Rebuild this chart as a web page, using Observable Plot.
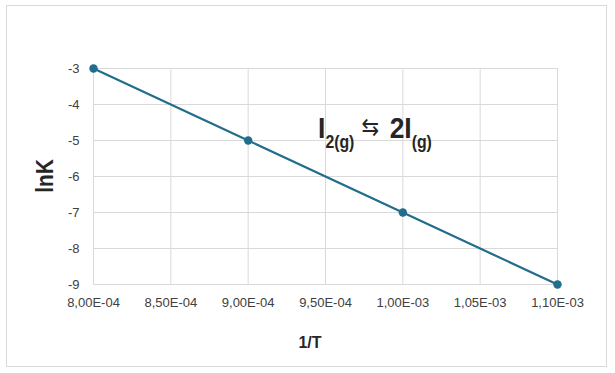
<!DOCTYPE html>
<html>
<head>
<meta charset="utf-8">
<script src="https://cdn.jsdelivr.net/npm/d3@7"></script>
<script src="https://cdn.jsdelivr.net/npm/@observablehq/plot@0.6"></script>
<style>
  html, body { margin: 0; padding: 0; background: #fff; }
  #wrap { position: relative; width: 615px; height: 373px; }
  #frame { position: absolute; left: 6px; top: 5px; width: 599px; height: 360px; border: 1px solid #d9d9d9; box-sizing: content-box; }
  #chart { position: absolute; left: 0; top: 0; }
</style>
</head>
<body>
<div id="wrap"><div id="frame"></div><div id="chart"></div></div>
<script>
const invT = [8.0e-4, 9.0e-4, 1.0e-3, 1.1e-3];
const lnK = [-3, -5, -7, -9];
const xTicks = [8.0e-4, 8.5e-4, 9.0e-4, 9.5e-4, 1.0e-3, 1.05e-3, 1.1e-3];
const xTickLabels = ["8,00E-04", "8,50E-04", "9,00E-04", "9,50E-04", "1,00E-03", "1,05E-03", "1,10E-03"];
const yTicks = [-9, -8, -7, -6, -5, -4, -3];
const xTitle = "1/T";
const yTitle = "lnK";
const annoPos = { x: 9.455e-4, y: -4.944 };

const data = invT.map((x, i) => ({ x, y: lnK[i] }));
const color = "#226c8c";
const font = "'Liberation Sans', Arial, sans-serif";

const plot = Plot.plot({
  width: 615,
  height: 373,
  marginLeft: 93,
  marginRight: 58,
  marginTop: 68,
  marginBottom: 89,
  style: { fontFamily: font, fontSize: "13px", background: "transparent", color: "#404040" },
  x: { domain: [8.0e-4, 1.1e-3], label: null },
  y: { domain: [-9, -3], label: null },
  marks: [
    Plot.gridY(yTicks, { stroke: "#d9d9d9", strokeOpacity: 1, strokeWidth: 1 }),
    Plot.gridX(xTicks, { stroke: "#d9d9d9", strokeOpacity: 1, strokeWidth: 1 }),
    Plot.axisX(xTicks, { tickSize: 0, tickPadding: 13, fill: "#404040", fontSize: 13, tickFormat: (d, i) => xTickLabels[i] }),
    Plot.axisY(yTicks, { tickSize: 0, tickPadding: 14, fill: "#404040", fontSize: 13, tickFormat: d => String(d) }),
    Plot.line(data, { x: "x", y: "y", stroke: color, strokeWidth: 2.2 }),
    Plot.dot(data, { x: "x", y: "y", fill: color, r: 4.2 })
  ]
});
document.getElementById("chart").appendChild(plot);

const svg = d3.select(plot);
const sx = plot.scale("x"), sy = plot.scale("y");

// axis titles
svg.append("text")
  .attr("x", (sx.apply(xTicks[0]) + sx.apply(xTicks[xTicks.length - 1])) / 2 - 15)
  .attr("y", 348)
  .attr("text-anchor", "middle")
  .attr("font-family", font)
  .attr("font-weight", "bold").attr("font-size", 16).attr("fill", "#262626")
  .text(xTitle);

svg.append("text")
  .attr("transform", `translate(53,${(sy.apply(-3) + sy.apply(-9)) / 2}) rotate(-90) scale(0.87,1)`)
  .attr("text-anchor", "middle")
  .attr("font-family", font)
  .attr("font-weight", "bold").attr("font-size", 24).attr("fill", "#262626")
  .text(yTitle);

// reaction annotation
const t = svg.append("text")
  .attr("transform", `translate(${sx.apply(annoPos.x)},${sy.apply(annoPos.y)}) scale(0.88,1)`)
  .attr("x", 0).attr("y", 0)
  .attr("text-anchor", "start")
  .attr("font-family", font)
  .attr("fill", "#262626");
t.append("tspan").attr("font-weight", "bold").attr("font-size", 30).text("I");
t.append("tspan").attr("font-weight", "bold").attr("font-size", 18).attr("dy", 10).text("2(g)");
t.append("tspan").attr("font-size", 24).attr("dy", -13).attr("dx", 8).attr("font-family", "'DejaVu Sans', sans-serif").text("\u21C6");
t.append("tspan").attr("font-weight", "bold").attr("font-size", 30).attr("dy", 3).attr("dx", 12).text("2I");
t.append("tspan").attr("font-weight", "bold").attr("font-size", 18).attr("dy", 10).text("(g)");
</script>
</body>
</html>
